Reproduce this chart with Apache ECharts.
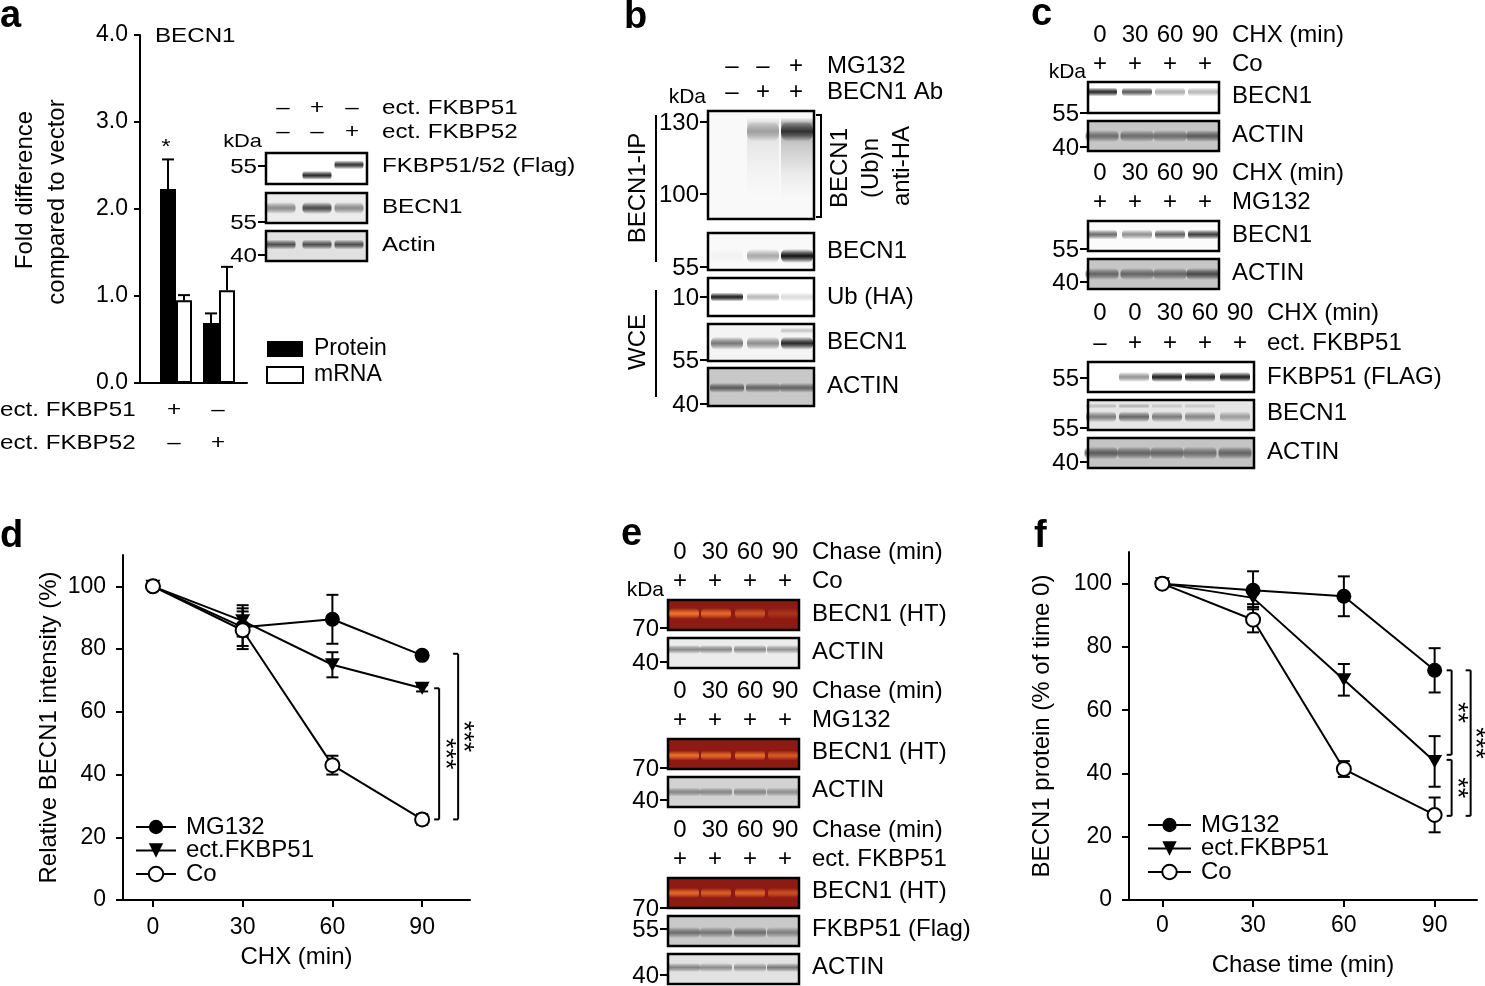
<!DOCTYPE html>
<html><head><meta charset="utf-8">
<script src="https://cdn.jsdelivr.net/npm/echarts@6/dist/echarts.min.js"></script>
<style>html,body{margin:0;padding:0;background:#fff}#c{width:1485px;height:986px}</style>
</head><body><div id="c"></div>
<script>
const FF = '"Liberation Sans", Arial, Helvetica, sans-serif';

// ---------------- Panel a data ----------------
const aGroups = [0, 1];                 // ect. FKBP51 , ect. FKBP52
const aProtein = [2.23, 0.69];
const aProteinErr = [0.34, 0.11];
const aMRNA = [0.95, 1.065];
const aMRNAErr = [0.06, 0.27];
const aYTicks = [0, 1, 2, 3, 4];
const aRowFKBP51 = ['+', '–'];
const aRowFKBP52 = ['–', '+'];
const aHdrFKBP51 = ['–', '+', '–'];
const aHdrFKBP52 = ['–', '–', '+'];
const aFlag51 = [0, 0.9, 0];
const aFlag52 = [0, 0, 0.85];
const aBecn1 = [0.45, 0.75, 0.45];
const aActin = [0.7, 0.7, 0.7];

// ---------------- Panel b data ----------------
const bMG132 = ['–', '–', '+'];
const bBecnAb = ['–', '+', '+'];
const bUbSmear = [0, 0.18, 0.5];
const bUbTop = [0, 0.3, 0.8];
const bIPBecn1 = [0.03, 0.35, 1.0];
const bUb = [0.95, 0.3, 0.15];
const bWceBecn1 = [0.55, 0.45, 0.9];
const bWceUpper = [0, 0, 0.2];
const bActin = [0.6, 0.55, 0.55];

// ---------------- Panel c data ----------------
const cTimes4 = ['0', '30', '60', '90'];
const cTimes5 = ['0', '0', '30', '60', '90'];
const cPlus4 = ['+', '+', '+', '+'];
const cFkRow = ['–', '+', '+', '+', '+'];
const cCoBecn1 = [0.9, 0.7, 0.35, 0.3];
const cCoActin = [0.5, 0.5, 0.5, 0.6];
const cMgBecn1 = [0.6, 0.45, 0.65, 0.8];
const cMgActin = [0.55, 0.55, 0.55, 0.7];
const cFlag = [0, 0.45, 0.95, 0.95, 0.95];
const cFkBecn1 = [0.5, 0.6, 0.5, 0.45, 0.35];
const cFkBecn1Upper = [0.2, 0.25, 0.15, 0.15, 0];
const cFkActin = [0.6, 0.55, 0.55, 0.5, 0.55];

// ---------------- Panel e data ----------------
const eTimes = ['0', '30', '60', '90'];
const eCoHT = [0.9, 0.8, 0.6, 0.25];
const eCoActin = [0.45, 0.45, 0.45, 0.4];
const eMgHT = [0.85, 0.8, 0.85, 0.65];
const eMgActin = [0.4, 0.4, 0.4, 0.35];
const eFkHT = [0.8, 0.7, 0.75, 0.55];
const eFkFlag = [0.5, 0.45, 0.5, 0.4];
const eFkActin = [0.45, 0.4, 0.4, 0.5];

// ---------------- Panel d data ----------------
const timeTicks = [0, 30, 60, 90];
const pctTicks = [0, 20, 40, 60, 80, 100];
const dMG132 = [100, 87, 89.5, 78];
const dMG132Err = [0, 6, 7.8, 1];
const dFKBP51 = [100, 89, 75, 67.5];
const dFKBP51Err = [0, 5, 4, 1];
const dCo = [100, 86, 43, 25.7];
const dCoErr = [0, 6, 3, 1.7];
const dSig = [[90, 67.5, 25.7], [90, 78.5, 25.7]];
const dSigText = ['***', '***'];

// ---------------- Panel f data ----------------
const fMG132 = [100, 97.9, 96, 72.6];
const fMG132Err = [0, 6, 6.3, 7];
const fFKBP51 = [100, 95.5, 69.6, 43.8];
const fFKBP51Err = [0, 2, 5, 8];
const fCo = [100, 88.6, 41.4, 26.9];
const fCoErr = [0, 4, 2.5, 5.5];
const fSig = [[90, 72.6, 45.9], [90, 44.3, 26.6], [90, 72.6, 26.6]];
const fSigText = ['**', '**', '***'];

// ---------------- helpers ----------------
function T(x, y, s, size, align, opt) {
  opt = opt || {};
  return {type: 'text', x: x, y: y, rotation: opt.rot || 0, scaleX: opt.sx || 1, z: 100,
    style: {text: s, font: (opt.bold ? 'bold ' : '') + size + 'px ' + FF, fill: '#000',
      align: align || 'left', verticalAlign: 'middle'}};
}
const SX = {sx: 1.15};   // panel a text is horizontally stretched
function L(x1, y1, x2, y2, w) {
  return {type: 'line', z: 100, shape: {x1: x1, y1: y1, x2: x2, y2: y2}, style: {stroke: '#000', lineWidth: w || 2}};
}
function rgba(c, a) { return 'rgba(' + c[0] + ',' + c[1] + ',' + c[2] + ',' + a + ')'; }
const DARK = [18, 18, 18];
const ORANGE = [250, 125, 45];
function blot(x, y, w, h, bg, lanes, bandW, rows) {
  const els = [{type: 'rect', z: 90, shape: {x: x, y: y, width: w, height: h}, style: {fill: bg}}];
  rows.forEach(function (r) {
    r.vals.forEach(function (v, i) {
      if (!v) return;
      const cx = lanes[i];
      if (r.smear) {
        els.push({type: 'rect', z: 91, shape: {x: cx - bandW / 2, y: y + h * r.pos, width: bandW, height: h * r.len},
          style: {fill: new echarts.graphic.LinearGradient(0, 0, 0, 1, [
            {offset: 0, color: rgba(r.c, 0)}, {offset: 0.08, color: rgba(r.c, v * 0.8)},
            {offset: 0.35, color: rgba(r.c, v * 0.4)}, {offset: 0.7, color: rgba(r.c, v * 0.12)},
            {offset: 1, color: rgba(r.c, 0)}])}});
      } else {
        const cy = y + h * r.pos;
        els.push({type: 'rect', z: 91, shape: {x: cx - bandW / 2, y: cy - r.th / 2, width: bandW, height: r.th, r: r.th / 2.5},
          style: {fill: new echarts.graphic.LinearGradient(0, 0, 0, 1, [
            {offset: 0, color: rgba(r.c, 0)}, {offset: 0.3, color: rgba(r.c, v * 0.7)},
            {offset: 0.5, color: rgba(r.c, v)}, {offset: 0.7, color: rgba(r.c, v * 0.7)},
            {offset: 1, color: rgba(r.c, 0)}])}});
      }
    });
  });
  els.push({type: 'rect', z: 95, shape: {x: x, y: y, width: w, height: h}, style: {fill: 'none', stroke: '#000', lineWidth: 2.5}});
  return els;
}
function marker(boxX, y, s, size, opt) {
  return [L(boxX - 8, y, boxX, y, 2), T(boxX - 9, y + 1, s, size, 'right', opt)];
}

const G = [];
// panel letters
G.push(T(0, 17, 'a', 38, 'left', {bold: true}));
G.push(T(624, 18, 'b', 38, 'left', {bold: true}));
G.push(T(1031, 15, 'c', 38, 'left', {bold: true}));
G.push(T(0, 537, 'd', 38, 'left', {bold: true}));
G.push(T(621, 535, 'e', 38, 'left', {bold: true}));
G.push(T(1034, 537, 'f', 38, 'left', {bold: true}));

// ----- panel a extra text -----
G.push(T(155, 36, 'BECN1', 21, 'left', SX));
G.push(T(25, 190, 'Fold difference', 24, 'center', {rot: Math.PI / 2}));
G.push(T(57, 202, 'compared to vector', 24, 'center', {rot: Math.PI / 2}));
G.push(T(166, 147, '*', 21, 'center', SX));
G.push(T(0, 410, 'ect. FKBP51', 21, 'left', SX));
G.push(T(0, 443, 'ect. FKBP52', 21, 'left', SX));
const aRowX = [174, 218];
aRowFKBP51.forEach((s, i) => G.push(T(aRowX[i], 410, s, 21, 'center', SX)));
aRowFKBP52.forEach((s, i) => G.push(T(aRowX[i], 443, s, 21, 'center', SX)));
const aHdrX = [283, 317, 352];
aHdrFKBP51.forEach((s, i) => G.push(T(aHdrX[i], 108, s, 21, 'center', SX)));
aHdrFKBP52.forEach((s, i) => G.push(T(aHdrX[i], 132, s, 21, 'center', SX)));
G.push(T(382, 108, 'ect. FKBP51', 21, 'left', SX));
G.push(T(382, 132, 'ect. FKBP52', 21, 'left', SX));
G.push(T(262, 142, 'kDa', 19, 'right', SX));
const aLanes = [281, 317, 349];
G.push(...blot(266, 153, 101, 31, '#ffffff', aLanes, 29, [
  {pos: 0.72, th: 9, vals: aFlag51, c: DARK}, {pos: 0.38, th: 9, vals: aFlag52, c: DARK}]));
G.push(...blot(266, 193, 101, 30, '#ececec', aLanes, 29, [{pos: 0.5, th: 12, vals: aBecn1, c: DARK}]));
G.push(...blot(266, 231, 101, 30, '#e0e0e0', aLanes, 29, [{pos: 0.45, th: 10, vals: aActin, c: DARK}]));
G.push(...marker(266, 166, '55', 21, SX), ...marker(266, 222, '55', 21, SX), ...marker(266, 255, '40', 21, SX));
G.push(T(382, 166, 'FKBP51/52 (Flag)', 21, 'left', SX), T(382, 207, 'BECN1', 21, 'left', SX),
  T(382, 245, 'Actin', 21, 'left', SX));

// ----- panel b -----
const bHdrX = [732, 763, 796];
bMG132.forEach((s, i) => G.push(T(bHdrX[i], 66, s, 24, 'center')));
bBecnAb.forEach((s, i) => G.push(T(bHdrX[i], 92, s, 24, 'center')));
G.push(T(827, 66, 'MG132', 24), T(827, 92, 'BECN1 Ab', 24), T(706, 97, 'kDa', 21, 'right'));
const bLanes = [727, 763, 797];
G.push(...blot(708, 111, 106, 108, '#f9f9f9', bLanes, 32, [
  {smear: true, pos: 0.06, len: 0.75, vals: bUbSmear, c: DARK},
  {pos: 0.19, th: 20, vals: bUbTop, c: DARK}]));
G.push(...blot(708, 233, 106, 37, '#f9f9f9', bLanes, 32, [{pos: 0.62, th: 14, vals: bIPBecn1, c: DARK}]));
G.push(...blot(708, 278, 106, 38, '#ffffff', bLanes, 32, [{pos: 0.5, th: 9, vals: bUb, c: DARK}]));
G.push(...blot(708, 324, 106, 37, '#f4f4f4', bLanes, 32, [
  {pos: 0.52, th: 13, vals: bWceBecn1, c: DARK}, {pos: 0.18, th: 6, vals: bWceUpper, c: DARK}]));
G.push(...blot(708, 368, 106, 38, '#c8c8c8', bLanes, 34, [{pos: 0.52, th: 10, vals: bActin, c: DARK}]));
G.push(...marker(708, 122, '130', 24), ...marker(708, 194, '100', 24), ...marker(708, 267, '55', 24),
  ...marker(708, 297, '10', 24), ...marker(708, 360, '55', 24), ...marker(708, 404, '40', 24));
G.push(L(821, 115, 821, 217, 2), L(816, 115, 822, 115, 2), L(816, 217, 822, 217, 2));
G.push(T(840, 168, 'BECN1', 24, 'center', {rot: Math.PI / 2}));
G.push(T(871, 168, '(Ub)n', 24, 'center', {rot: Math.PI / 2}));
G.push(T(902, 166, 'anti-HA', 24, 'center', {rot: Math.PI / 2}));
G.push(T(827, 251, 'BECN1', 24), T(827, 297, 'Ub (HA)', 24), T(827, 342, 'BECN1', 24), T(827, 386, 'ACTIN', 24));
G.push(L(656, 115, 656, 262, 2), T(638, 188, 'BECN1-IP', 24, 'center', {rot: Math.PI / 2}));
G.push(L(656, 290, 656, 397, 2), T(638, 342, 'WCE', 24, 'center', {rot: Math.PI / 2}));

// ----- panel c -----
const cHdr4 = [1100, 1135, 1170, 1205];
const cHdr5 = [1100, 1135, 1170, 1205, 1240];
const cLanes4 = [1102, 1137, 1170, 1203];
const cLanes5 = [1101, 1134, 1167, 1200, 1235];
cTimes4.forEach((s, i) => G.push(T(cHdr4[i], 35, s, 24, 'center')));
cPlus4.forEach((s, i) => G.push(T(cHdr4[i], 64, s, 24, 'center')));
G.push(T(1232, 35, 'CHX (min)', 24), T(1232, 64, 'Co', 24), T(1086, 72, 'kDa', 21, 'right'));
G.push(...blot(1088, 82, 131, 31, '#ffffff', cLanes4, 30, [{pos: 0.32, th: 9, vals: cCoBecn1, c: DARK}]));
G.push(...blot(1088, 121, 131, 30, '#c6c6c6', cLanes4, 33, [{pos: 0.5, th: 12, vals: cCoActin, c: DARK}]));
G.push(...marker(1088, 113, '55', 24), ...marker(1088, 147, '40', 24));
G.push(T(1232, 96, 'BECN1', 24), T(1232, 135, 'ACTIN', 24));
cTimes4.forEach((s, i) => G.push(T(cHdr4[i], 173, s, 24, 'center')));
cPlus4.forEach((s, i) => G.push(T(cHdr4[i], 202, s, 24, 'center')));
G.push(T(1232, 173, 'CHX (min)', 24), T(1232, 202, 'MG132', 24));
G.push(...blot(1088, 221, 131, 30, '#fbfbfb', cLanes4, 30, [{pos: 0.45, th: 10, vals: cMgBecn1, c: DARK}]));
G.push(...blot(1088, 259, 131, 30, '#c6c6c6', cLanes4, 33, [{pos: 0.5, th: 12, vals: cMgActin, c: DARK}]));
G.push(...marker(1088, 249, '55', 24), ...marker(1088, 282, '40', 24));
G.push(T(1232, 235, 'BECN1', 24), T(1232, 273, 'ACTIN', 24));
cTimes5.forEach((s, i) => G.push(T(cHdr5[i], 313, s, 24, 'center')));
cFkRow.forEach((s, i) => G.push(T(cHdr5[i], 343, s, 24, 'center')));
G.push(T(1267, 313, 'CHX (min)', 24), T(1267, 343, 'ect. FKBP51', 24));
G.push(...blot(1088, 362, 166, 30, '#ffffff', cLanes5, 30, [{pos: 0.5, th: 10, vals: cFlag, c: DARK}]));
G.push(...blot(1088, 400, 166, 30, '#e6e6e6', cLanes5, 30, [
  {pos: 0.56, th: 11, vals: cFkBecn1, c: DARK}, {pos: 0.2, th: 5, vals: cFkBecn1Upper, c: DARK}]));
G.push(...blot(1088, 438, 166, 30, '#c4c4c4', cLanes5, 33, [{pos: 0.5, th: 13, vals: cFkActin, c: DARK}]));
G.push(...marker(1088, 378, '55', 24), ...marker(1088, 428, '55', 24), ...marker(1088, 462, '40', 24));
G.push(T(1267, 377, 'FKBP51 (FLAG)', 24), T(1267, 413, 'BECN1', 24), T(1267, 452, 'ACTIN', 24));

// ----- panel e -----
const eHdr = [680, 715, 750, 785];
const eLanes = [684, 716, 750, 783];
const eBlocks = [
  {y0: 552, cond: 'Co'}, {y0: 691, cond: 'MG132'}, {y0: 830, cond: 'ect. FKBP51'}];
eBlocks.forEach(b => {
  eTimes.forEach((s, i) => G.push(T(eHdr[i], b.y0, s, 24, 'center')));
  cPlus4.forEach((s, i) => G.push(T(eHdr[i], b.y0 + 29, s, 24, 'center')));
  G.push(T(812, b.y0, 'Chase (min)', 24), T(812, b.y0 + 29, b.cond, 24));
});
G.push(T(664, 590, 'kDa', 21, 'right'));
const RED = '#8d1b13';
G.push(...blot(668, 600, 131, 30, RED, eLanes, 30, [{pos: 0.45, th: 11, vals: eCoHT, c: ORANGE}]));
G.push(...blot(668, 638, 131, 30, '#ececec', eLanes, 32, [{pos: 0.38, th: 9, vals: eCoActin, c: DARK}]));
G.push(...marker(668, 628, '70', 24), ...marker(668, 662, '40', 24));
G.push(T(812, 614, 'BECN1 (HT)', 24), T(812, 652, 'ACTIN', 24));
G.push(...blot(668, 739, 131, 30, RED, eLanes, 30, [{pos: 0.55, th: 10, vals: eMgHT, c: ORANGE}]));
G.push(...blot(668, 777, 131, 30, '#d2d2d2', eLanes, 32, [{pos: 0.5, th: 9, vals: eMgActin, c: DARK}]));
G.push(...marker(668, 768, '70', 24), ...marker(668, 800, '40', 24));
G.push(T(812, 752, 'BECN1 (HT)', 24), T(812, 790, 'ACTIN', 24));
G.push(...blot(668, 878, 131, 30, RED, eLanes, 30, [{pos: 0.5, th: 10, vals: eFkHT, c: ORANGE}]));
G.push(...blot(668, 916, 131, 30, '#c9c9c9', eLanes, 32, [{pos: 0.55, th: 11, vals: eFkFlag, c: DARK}]));
G.push(...blot(668, 954, 131, 30, '#e2e2e2', eLanes, 32, [{pos: 0.45, th: 9, vals: eFkActin, c: DARK}]));
G.push(...marker(668, 908, '70', 24), ...marker(668, 929, '55', 24), ...marker(668, 975, '40', 24));
G.push(T(812, 891, 'BECN1 (HT)', 24), T(812, 929, 'FKBP51 (Flag)', 24), T(812, 967, 'ACTIN', 24));

// ---------------- custom renderers ----------------
function errRenderer(dx, both) {
  return function (params, api) {
    const x = api.value(0), y = api.value(1), e = api.value(2);
    if (!e) return null;
    const p = api.coord([x, y]);
    const pt = api.coord([x, y + e]);
    const pb = both ? api.coord([x, y - e]) : p;
    const cx = p[0] + dx, hw = 6;
    const st = {stroke: '#000', lineWidth: 2};
    const ch = [
      {type: 'line', shape: {x1: cx, y1: pt[1], x2: cx, y2: pb[1]}, style: st},
      {type: 'line', shape: {x1: cx - hw, y1: pt[1], x2: cx + hw, y2: pt[1]}, style: st}];
    if (both) ch.push({type: 'line', shape: {x1: cx - hw, y1: pb[1], x2: cx + hw, y2: pb[1]}, style: st});
    return {type: 'group', children: ch};
  };
}
function sigRenderer(offsets, textOffsets, texts) {
  return function (params, api) {
    const i = params.dataIndex;
    const x = api.value(0);
    const a = api.coord([x, api.value(1)]), b = api.coord([x, api.value(2)]);
    const bx = a[0] + offsets[i];
    const st = {stroke: '#000', lineWidth: 2};
    return {type: 'group', children: [
      {type: 'line', shape: {x1: bx, y1: a[1], x2: bx, y2: b[1]}, style: st},
      {type: 'line', shape: {x1: bx - 5, y1: a[1], x2: bx, y2: a[1]}, style: st},
      {type: 'line', shape: {x1: bx - 5, y1: b[1], x2: bx, y2: b[1]}, style: st},
      {type: 'text', x: a[0] + textOffsets[i], y: (a[1] + b[1]) / 2, rotation: -Math.PI / 2,
        style: {text: texts[i], font: '27px ' + FF, fill: '#000', align: 'center', verticalAlign: 'middle'}}
    ]};
  };
}
function lineSeries(name, xi, vals, kind) {
  const s = {type: 'line', name: name, xAxisIndex: xi, yAxisIndex: xi, z: 5, silent: true,
    data: timeTicks.map((t, i) => [t, vals[i]]), lineStyle: {color: '#000', width: 2},
    symbol: 'circle', symbolSize: 15, itemStyle: {color: '#000'}};
  if (kind === 'tri') { s.symbol = 'triangle'; s.symbolRotate = 180; s.symbolSize = [15, 13]; }
  if (kind === 'open') { s.symbolSize = 14; s.itemStyle = {color: '#fff', borderColor: '#000', borderWidth: 2}; }
  return s;
}
function errSeries(xi, vals, errs) {
  return {type: 'custom', xAxisIndex: xi, yAxisIndex: xi, z: 3, silent: true,
    renderItem: errRenderer(0, true), data: timeTicks.map((t, i) => [t, vals[i], errs[i]])};
}

const axisLineStyle = {onZero: false, lineStyle: {color: '#000', width: 2}};
const tickStyle = {lineStyle: {color: '#000', width: 2}};

function timeXAxis(gi, min, max, name, gap, margin) {
  return {gridIndex: gi, type: 'value', min: min, max: max, axisLine: axisLineStyle,
    axisTick: Object.assign({customValues: timeTicks, length: 7}, tickStyle),
    axisLabel: {customValues: timeTicks, fontSize: 23, color: '#000', margin: margin, fontFamily: FF},
    splitLine: {show: false}, name: name, nameLocation: 'middle', nameGap: gap,
    nameTextStyle: {fontSize: 24, color: '#000', fontFamily: FF}};
}
function pctYAxis(gi, name, gap, margin) {
  return {gridIndex: gi, type: 'value', min: 0, max: 110, axisLine: axisLineStyle,
    axisTick: Object.assign({customValues: pctTicks, length: 7}, tickStyle),
    axisLabel: {customValues: pctTicks, fontSize: 23, color: '#000', margin: margin, fontFamily: FF},
    splitLine: {show: false}, name: name, nameLocation: 'middle', nameGap: gap,
    nameTextStyle: {fontSize: 24, color: '#000', fontFamily: FF}};
}
const legendText = {fontSize: 24, color: '#000', fontFamily: FF, padding: [0, 0, 0, 5]};

const option = {
  animation: false,
  textStyle: {fontFamily: FF, color: '#000'},
  grid: [
    {left: 140, top: 35, width: 107, height: 348},
    {left: 123, top: 555, width: 347, height: 345},
    {left: 1129, top: 552, width: 348, height: 348}
  ],
  xAxis: [
    {gridIndex: 0, type: 'value', min: -0.837, max: 1.651, axisLine: axisLineStyle,
      axisTick: {show: false}, axisLabel: {show: false}, splitLine: {show: false}},
    timeXAxis(1, -10, 106, 'CHX (min)', 45, 16),
    timeXAxis(2, -11, 104, 'Chase time (min)', 53, 14)
  ],
  yAxis: [
    {gridIndex: 0, type: 'value', min: 0, max: 4, axisLine: axisLineStyle,
      axisTick: Object.assign({customValues: aYTicks, length: 6}, tickStyle),
      axisLabel: {customValues: aYTicks, fontSize: 23, color: '#000', margin: 12, fontFamily: FF,
        formatter: v => Number(v).toFixed(1)},
      splitLine: {show: false}},
    pctYAxis(1, 'Relative BECN1 intensity (%)', 62, 17),
    pctYAxis(2, 'BECN1 protein (% of time 0)', 75, 17)
  ],
  legend: [
    {data: ['Protein', 'mRNA'], orient: 'vertical', left: 266, top: 337.5, padding: 0, itemWidth: 36, itemHeight: 16,
      itemGap: 3, icon: 'rect', selectedMode: false,
      textStyle: {fontSize: 23, color: '#000', fontFamily: FF, padding: [0, 0, 0, 6]}},
    {data: ['MG132', 'ect.FKBP51', 'Co'], orient: 'vertical', left: 135, top: 815, padding: 0, itemWidth: 40,
      itemHeight: 18, itemGap: -0.5, selectedMode: false, textStyle: legendText},
    {data: ['MG132', 'ect.FKBP51', 'Co'], orient: 'vertical', left: 1147, top: 813, padding: 0, itemWidth: 43,
      itemHeight: 18, itemGap: -0.5, selectedMode: false, textStyle: legendText}
  ],
  series: [
    {type: 'bar', name: 'Protein', xAxisIndex: 0, yAxisIndex: 0, barWidth: 16, barGap: '0%', silent: true,
      data: aGroups.map((g, i) => [g, aProtein[i]]), itemStyle: {color: '#000'}},
    {type: 'bar', name: 'mRNA', xAxisIndex: 0, yAxisIndex: 0, barWidth: 16, barGap: '0%', silent: true,
      data: aGroups.map((g, i) => [g, aMRNA[i]]), itemStyle: {color: '#fff', borderColor: '#000', borderWidth: 2}},
    {type: 'custom', xAxisIndex: 0, yAxisIndex: 0, z: 3, silent: true, renderItem: errRenderer(-8, false),
      data: aGroups.map((g, i) => [g, aProtein[i], aProteinErr[i]])},
    {type: 'custom', xAxisIndex: 0, yAxisIndex: 0, z: 3, silent: true, renderItem: errRenderer(8, false),
      data: aGroups.map((g, i) => [g, aMRNA[i], aMRNAErr[i]])},
    // panel d
    errSeries(1, dMG132, dMG132Err), errSeries(1, dFKBP51, dFKBP51Err), errSeries(1, dCo, dCoErr),
    lineSeries('MG132', 1, dMG132, 'fill'), lineSeries('ect.FKBP51', 1, dFKBP51, 'tri'), lineSeries('Co', 1, dCo, 'open'),
    {type: 'custom', xAxisIndex: 1, yAxisIndex: 1, z: 4, silent: true,
      renderItem: sigRenderer([17, 36], [22, 40], dSigText), data: dSig},
    // panel f
    errSeries(2, fMG132, fMG132Err), errSeries(2, fFKBP51, fFKBP51Err), errSeries(2, fCo, fCoErr),
    lineSeries('MG132', 2, fMG132, 'fill'), lineSeries('ect.FKBP51', 2, fFKBP51, 'tri'), lineSeries('Co', 2, fCo, 'open'),
    {type: 'custom', xAxisIndex: 2, yAxisIndex: 2, z: 4, silent: true,
      renderItem: sigRenderer([17, 17, 36], [22, 22, 40], fSigText), data: fSig}
  ],
  graphic: {elements: G}
};

const chart = echarts.init(document.getElementById('c'), null, {renderer: 'canvas'});
chart.setOption(option);
</script></body></html>
